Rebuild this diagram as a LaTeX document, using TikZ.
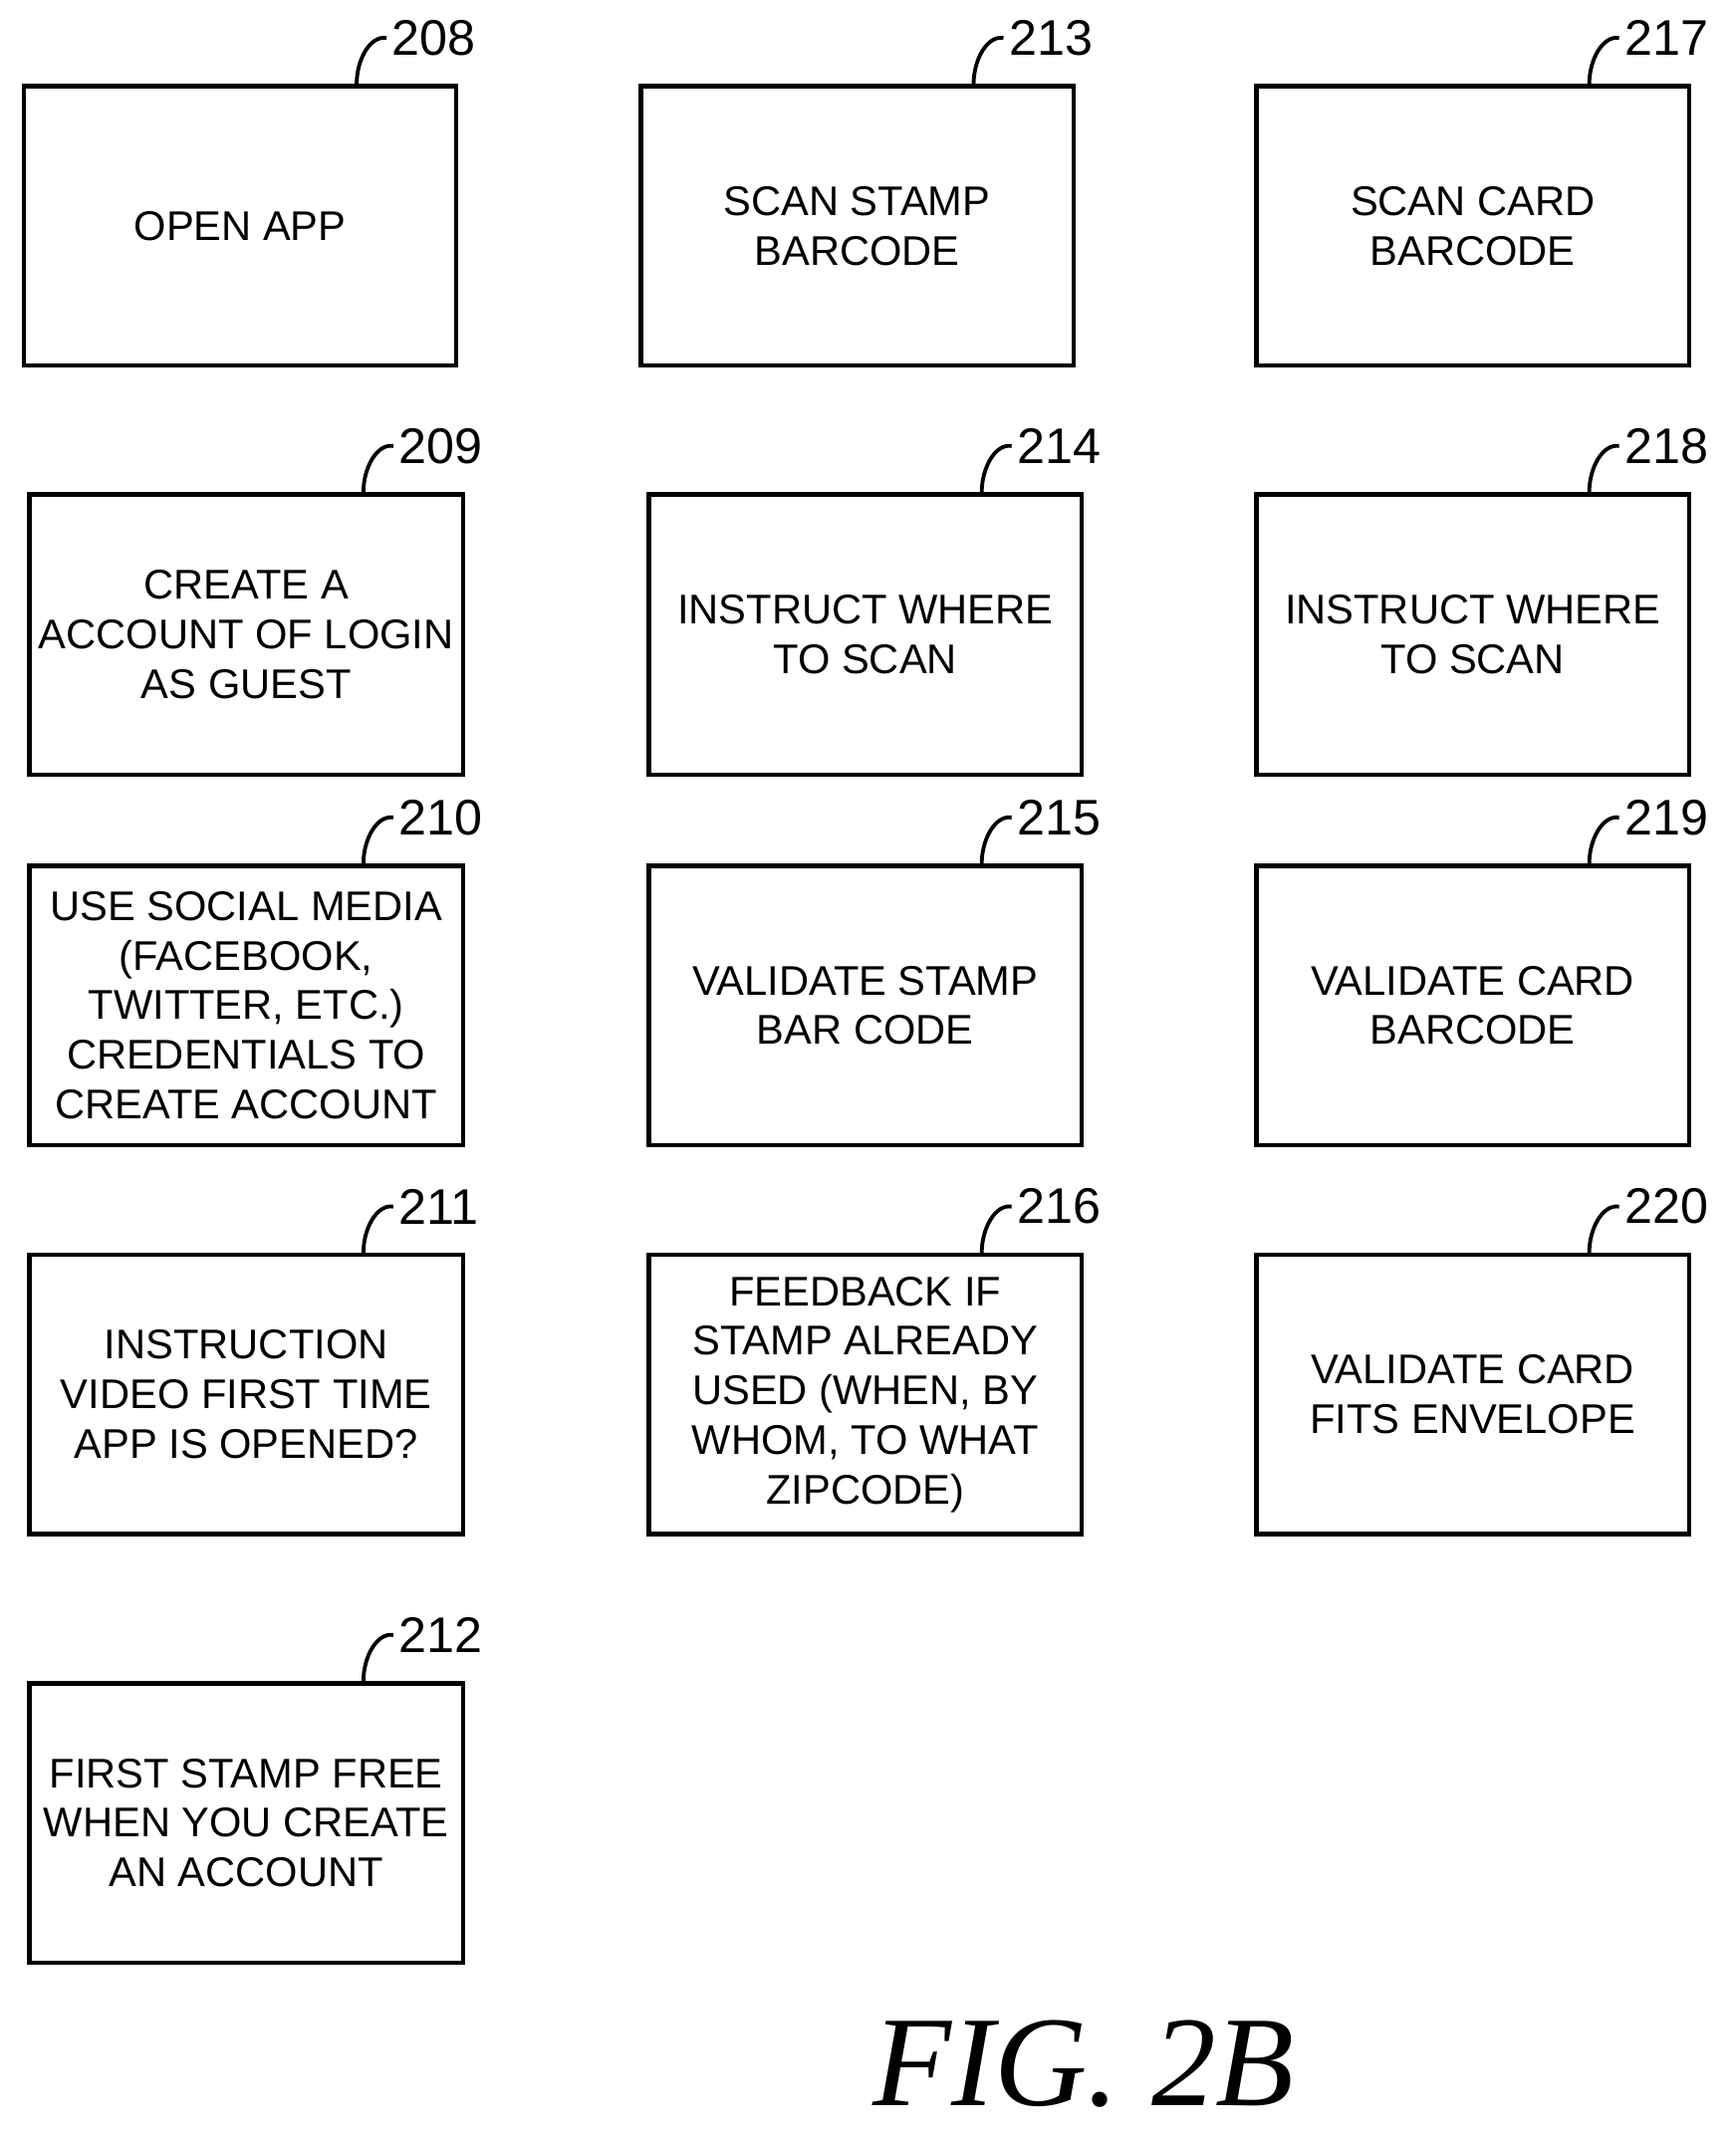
\documentclass[tikz,border=0pt]{standalone}
\usepackage{fontspec}
\setmainfont{Liberation Sans}
\newfontfamily\figfont{Liberation Serif}
\tikzset{box/.style={draw,line width=0.9pt,inner sep=0pt,anchor=north west,align=center,font=\fontsize{8.7}{10.4}\selectfont},
lead/.style={line width=0.8pt},
num/.style={anchor=west,inner sep=1pt,font=\fontsize{10.5}{11}\selectfont}}
\newcommand{\bx}[7]{%
 \node[box,minimum width=#4*0.01cm-#2*0.01cm,minimum height=#5*0.01cm-#3*0.01cm] (b#7) at (#2,#3) {#6};
 \coordinate (s#7) at (#4-72,#3);
 \node[num] (n#7) at (#4-50,#3-34) {#7};
 \draw[lead] (s#7) .. controls ++(0,-18) and ++(-12,-2) .. (n#7.west);
}
\begin{document}
\begin{tikzpicture}[x=0.01cm,y=-0.01cm]
\useasboundingbox (0,0) rectangle (1280,1577);
\bx{a}{16}{62}{335}{268}{OPEN APP}{208}
\bx{a}{471}{62}{790}{268}{SCAN STAMP\\BARCODE}{213}
\bx{a}{925}{62}{1244}{268}{SCAN CARD\\BARCODE}{217}
\bx{a}{20}{363}{340}{570}{CREATE A\\ACCOUNT OF LOGIN\\AS GUEST}{209}
\bx{a}{477}{363}{796}{570}{INSTRUCT WHERE\\TO SCAN}{214}
\bx{a}{925}{363}{1244}{570}{INSTRUCT WHERE\\TO SCAN}{218}
\bx{a}{20}{637}{340}{843}{USE SOCIAL MEDIA\\(FACEBOOK,\\TWITTER, ETC.)\\CREDENTIALS TO\\CREATE ACCOUNT}{210}
\bx{a}{477}{637}{796}{843}{VALIDATE STAMP\\BAR CODE}{215}
\bx{a}{925}{637}{1244}{843}{VALIDATE CARD\\BARCODE}{219}
\bx{a}{20}{924}{340}{1130}{INSTRUCTION\\VIDEO FIRST TIME\\APP IS OPENED?}{211}
\bx{a}{477}{924}{796}{1130}{FEEDBACK IF\\STAMP ALREADY\\USED (WHEN, BY\\WHOM, TO WHAT\\ZIPCODE)}{216}
\bx{a}{925}{924}{1244}{1130}{VALIDATE CARD\\FITS ENVELOPE}{220}
\bx{a}{20}{1240}{340}{1446}{FIRST STAMP FREE\\WHEN YOU CREATE\\AN ACCOUNT}{212}
\node[font=\figfont\itshape\fontsize{27}{30}\selectfont] (fig) at (799,1522) {FIG. 2B};
\end{tikzpicture}
\end{document}
